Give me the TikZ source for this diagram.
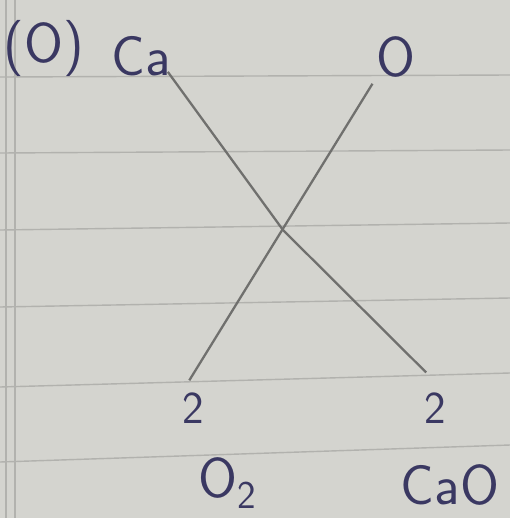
\documentclass[tikz,border=0pt]{standalone}
\usepackage{amsmath}
\usetikzlibrary{arrows.meta}
\definecolor{paper}{RGB}{212,212,207}
\definecolor{rule}{RGB}{178,178,174}
\definecolor{ink}{RGB}{58,56,98}
\definecolor{pencil}{RGB}{112,112,110}

\begin{document}
\begin{tikzpicture}[x=0.02cm, y=-0.02cm, >=Latex,
    chem/.style={font=\sffamily\fontsize{32}{36}\selectfont, text=ink, inner sep=0pt},
    coef/.style={font=\sffamily\fontsize{26}{30}\selectfont, text=ink, inner sep=0pt}]
  % paper
  \fill[paper] (0,0) rectangle (510,518);
  \useasboundingbox (0,0) rectangle (510,518);
  \draw[rule, line width=0.8pt] (0,77) -- (510,75);
  \draw[rule, line width=0.8pt] (0,153) -- (510,150);
  \draw[rule, line width=0.8pt] (0,230) -- (510,223);
  \draw[rule, line width=0.8pt] (0,307) -- (510,298);
  \draw[rule, line width=0.8pt] (0,387) -- (510,373);
  \draw[rule, line width=0.8pt] (0,462) -- (510,445);
  \draw[rule, line width=0.6pt] (6,0) -- (6,518);
  \draw[rule, line width=0.6pt] (15,0) -- (15,518);
  % labels
  \node[chem] (part) at (44,48) {(O)};
  \node[chem] (ca) at (141,56) {Ca};
  \node[chem] (oxy) at (396,57) {O};
  \node[coef] (twoL) at (193,408) {2};
  \node[coef] (twoR) at (435,408) {2};
  \node[chem] (otwo) at (228,483) {O\textsubscript{2}};
  \node[chem] (cao) at (450,485) {CaO};
  % cross
  \coordinate (cross) at (283,230);
  \draw[pencil, line width=1.3pt, shorten <=-3pt, shorten >=16pt] (ca.south east) -- (cross) -- (twoR.north east);
  \draw[pencil, line width=1.3pt, shorten <=4pt, shorten >=8pt] (oxy.south west) -- (twoL.north west);
\end{tikzpicture}
\end{document}
